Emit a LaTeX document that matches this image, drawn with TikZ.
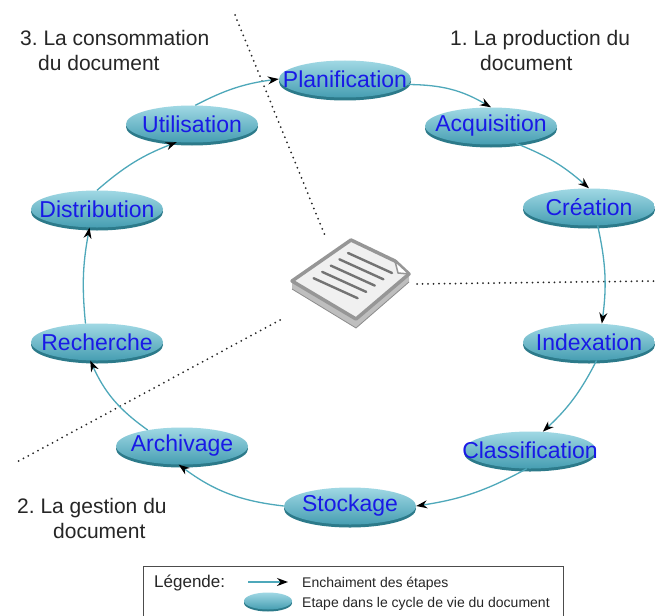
\documentclass[tikz,border=0pt]{standalone}
\usepackage{fontspec}
\setmainfont{Liberation Sans}
\frenchspacing
\usetikzlibrary{arrows.meta,shapes.geometric,shadows}
\definecolor{stagetop}{RGB}{160,216,228}
\definecolor{stagebot}{RGB}{70,158,178}
\definecolor{stagerim}{RGB}{44,122,138}
\definecolor{stagetext}{RGB}{25,25,230}
\definecolor{flowline}{RGB}{78,168,186}
\definecolor{docedge}{RGB}{150,150,150}
\definecolor{docface}{RGB}{240,240,240}
\definecolor{docside}{RGB}{190,190,190}
\tikzset{
    stage/.style={ellipse, top color=stagetop, bottom color=stagebot, draw=none,
        general shadow={shadow yshift=-#1, fill=stagerim},
        minimum width=132pt, minimum height=37pt, inner xsep=-40pt, inner ysep=0pt,
        text=stagetext, font=\fontsize{23}{23}\selectfont},
    stage/.default=3pt,
    flow/.style={draw=flowline, line width=1.3pt, -{Stealth[color=black,length=11pt,width=8pt]}},
    border/.style={line width=2pt, dash pattern=on 0pt off 5.5pt, line cap=round, black!85},
    phase/.style={align=left, anchor=north west, inner sep=0pt, text=black!85,
        font=\fontsize{21}{25}\selectfont},
    legtext/.style={anchor=base west, inner sep=0pt, text=black!85, font=\fontsize{14}{14}\selectfont},
    docline/.style={draw=black!55, line width=2.4pt, line cap=round}
}
\begin{document}
\begin{tikzpicture}[x=1pt,y=-1pt]
            \useasboundingbox (0,0) rectangle (655,615);
            \fill[white] (0,0) rectangle (655,615);

            \draw[border] (235,15) -- (326,238);
            \draw[border] (417,284) -- (655,281);
            \draw[border] (280,320) -- (15,463);

            \fill[docside] (292,281) -- (356,319) -- (409,274) -- (409,282) -- (356,328) -- (292,289) -- cycle;
            \draw[black!45, line width=0.8pt] (292,289) -- (356,328) -- (409,282);
            \filldraw[fill=docface, draw=docedge, line width=3.5pt, line join=round]
                (292,281) -- (351,240) -- (395,261) -- (409,274) -- (356,319) -- cycle;
            \filldraw[fill=white, draw=docedge, line width=1.5pt, line join=round]
                (395,261) -- (398,273) -- (409,274) -- cycle;
            \foreach \i in {0,...,4}
                \draw[docline] ({348-8.6*\i},{253+6.3*\i}) -- ++(44,20);

            \node[stage] (plan) at (345,79) {Planification};
            \node[stage] (acq) at (491,126) {Acquisition};
            \node[stage] (cre) at (589,207) {Création};
            \node[stage] (idx) at (589,342) {Indexation};
            \node[stage] (cla) at (530,450) {Classification};
            \node[stage] (sto) at (350,506) {Stockage};
            \node[stage] (arc) at (182,446) {Archivage};
            \node[stage] (rec) at (97,342) {Recherche};
            \node[stage] (dis) at (97,209) {Distribution};
            \node[stage] (uti) at (192,124) {Utilisation};

            \draw[flow] (plan.-5) to[bend left=15] (acq.north);
            \draw[flow] (acq.-35) to[bend left=10] (cre.north);
            \draw[flow] (cre.-65) to[bend left=10] (idx.55);
            \draw[flow] (idx.-68) to[bend left=10] (cla.55);
            \draw[flow] (cla.-100) to[bend left=10] (sto.east);
            \draw[flow] (sto.west) to[bend left=15] (arc.-100);
            \draw[flow] (arc.155) to[bend left=15] (rec.-110);
            \draw[flow] (rec.122) to[bend left=8] (dis.-112);
            \draw[flow] (dis.north) to[bend left=10] (uti.-130);
            \draw[flow] (uti.80) to[bend left=10] (plan.west);

            \node[phase] (prod) at (450,30) {1. La production du\\\hspace*{30pt}document};
            \node[phase] (gest) at (17,498) {2. La gestion du\\\hspace*{36pt}document};
            \node[phase] (cons) at (20,30) {3. La consommation\\\hspace*{18pt}du document};

            \draw[black!70, line width=0.8pt] (143,617) -- (143,566) -- (563,566) -- (563,617);
            \node[anchor=base west, inner sep=0pt, text=black!85, font=\fontsize{17}{17}\selectfont] (leg) at (154,587) {Légende:};
            \coordinate (lega) at (248,582);
            \coordinate (legb) at (288,582);
            \draw[flow] (lega) -- (legb);
            \node[legtext] (legflow) at (302,587) {Enchaiment des étapes};
            \node[stage=2pt, minimum width=48pt, minimum height=17pt] (legstage) at (268,601) {};
            \node[legtext] (legstep) at (302,607) {Etape dans le cycle de vie du document};
        \end{tikzpicture}
\end{document}
